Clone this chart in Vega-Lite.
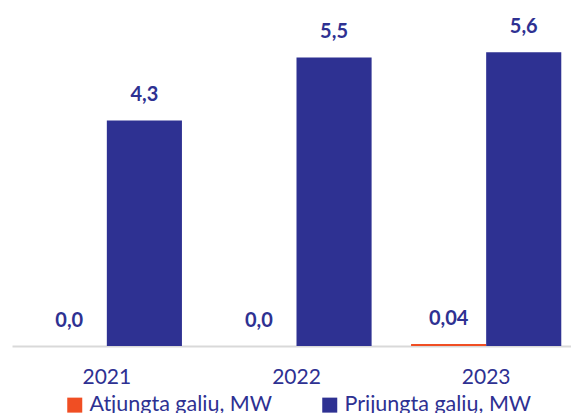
{
  "$schema": "https://vega.github.io/schema/vega-lite/v6.json",
  "autosize": {"type": "none"},
  "width": 569,
  "height": 341,
  "padding": {"left": 12, "top": 5, "right": 0, "bottom": 67},
  "background": "white",
  "data": {
    "values": [
      {"year": "2021", "series": "Atjungta galių, MW", "value": 0.0, "label": "0,0"},
      {"year": "2021", "series": "Prijungta galių, MW", "value": 4.3, "label": "4,3"},
      {"year": "2022", "series": "Atjungta galių, MW", "value": 0.0, "label": "0,0"},
      {"year": "2022", "series": "Prijungta galių, MW", "value": 5.5, "label": "5,5"},
      {"year": "2023", "series": "Atjungta galių, MW", "value": 0.04, "label": "0,04"},
      {"year": "2023", "series": "Prijungta galių, MW", "value": 5.6, "label": "5,6"}
    ]
  },
  "encoding": {
    "x": {
      "field": "year", "type": "nominal",
      "scale": {"paddingInner": 0.208, "paddingOuter": 0.104},
      "axis": {
        "title": null, "labelAngle": 0, "ticks": false,
        "domainColor": "#D9D9D9", "domainWidth": 2,
        "labelFont": "Lato", "labelFontSize": 21, "labelColor": "#2E3192",
        "labelPadding": 20
      }
    },
    "xOffset": {"field": "series", "type": "nominal"},
    "y": {
      "field": "value", "type": "quantitative",
      "scale": {"domain": [0, 6.5]},
      "axis": null
    }
  },
  "layer": [
    {
      "mark": {"type": "bar"},
      "encoding": {
        "color": {
          "field": "series", "type": "nominal",
          "scale": {"domain": ["Atjungta galių, MW", "Prijungta galių, MW"], "range": ["#F04E23", "#2E3192"]},
          "legend": {
            "title": null, "orient": "none", "direction": "horizontal",
            "legendX": 52, "legendY": 389,
            "symbolType": "square", "symbolSize": 225, "symbolStrokeWidth": 0,
            "labelFont": "Lato", "labelFontSize": 21.5, "labelColor": "#2E3192",
            "labelLimit": 0, "columnPadding": 46, "labelOffset": 4
          }
        }
      }
    },
    {
      "mark": {"type": "text", "baseline": "alphabetic", "dy": -19, "font": "Lato", "fontSize": 20, "fontWeight": "bold", "color": "#2E3192"},
      "encoding": {"text": {"field": "label"}}
    }
  ],
  "config": {"view": {"stroke": null}}
}
